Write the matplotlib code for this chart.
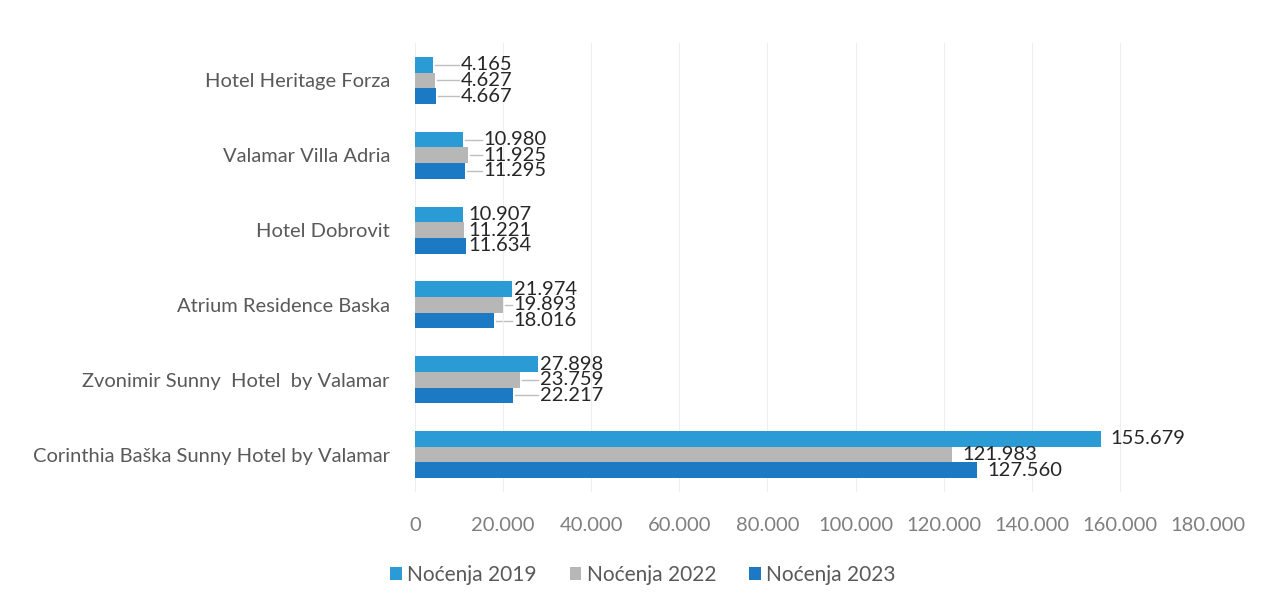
import matplotlib
matplotlib.use("Agg")
import matplotlib.pyplot as plt
import numpy as np

categories = ["Corinthia Baška Sunny Hotel by Valamar",
              "Zvonimir Sunny  Hotel  by Valamar",
              "Atrium Residence Baska",
              "Hotel Dobrovit",
              "Valamar Villa Adria",
              "Hotel Heritage Forza"]
series_names = ["Noćenja 2019", "Noćenja 2022", "Noćenja 2023"]
n2019 = [155679, 27898, 21974, 10907, 10980, 4165]
n2022 = [121983, 23759, 19893, 11221, 11925, 4627]
n2023 = [127560, 22217, 18016, 11634, 11295, 4667]
xticks = [0, 20000, 40000, 60000, 80000, 100000, 120000, 140000, 160000, 180000]

colors = ["#2B9BD6", "#B7B7B7", "#1C79C3"]
series = [n2019, n2022, n2023]

plt.rcParams['font.family'] = ['Lato', 'DejaVu Sans']

fig = plt.figure(figsize=(12.63, 6.05), dpi=100)
ax = fig.add_axes([415/1263, 1-492/605, (1208-415)/1263, (492-43)/605])

def fmt(v):
    return f"{v:,}".replace(",", ".")

y = np.arange(len(categories))
h = 0.21
offsets = [h, 0, -h]
for s, vals, c, off in zip(series_names, series, colors, offsets):
    ax.barh(y + off, vals, height=h, color=c, label=s, zorder=2)

# data labels
px = 180000 / (1208 - 415)
for i in range(len(categories)):
    group = [series[k][i] for k in range(3)]
    gmax = max(group)
    for k in range(3):
        v = series[k][i]
        yy = y[i] + offsets[k]
        if gmax > 50000:
            tx = v + 10 * px
            ax.text(tx, yy, fmt(v), va="center", ha="left", fontsize=14.5,
                    color="#262626", zorder=3)
        else:
            extra = 25 if gmax < 6000 else (16 if i == 4 else 2)
            tx = gmax + extra * px
            if tx - v > 8 * px:
                ax.plot([v + 2 * px, tx - 2 * px], [yy, yy], color="#BFBFBF", lw=1, zorder=1)
            ax.text(tx, yy, fmt(v), va="center", ha="left", fontsize=14.5,
                    color="#262626", zorder=3)

ax.set_xlim(0, 180000)
ax.set_ylim(-0.5, 5.5)
ax.set_yticks(y)
ax.set_yticklabels(categories, fontsize=14.5, color="#595959")
ax.set_xticks(xticks)
ax.set_xticklabels([fmt(t) for t in xticks], fontsize=14.5, color="#7F7F7F")
ax.tick_params(axis="both", length=0)
ax.tick_params(axis="x", pad=18)
ax.tick_params(axis="y", pad=18)
ax.grid(axis="x", color="#EEEEEE", lw=0.8, zorder=0)
for sp in ax.spines.values():
    sp.set_visible(False)

fig.legend(loc="center", bbox_to_anchor=(643/1263, 1-575/605), ncol=3, frameon=False,
           fontsize=15, handlelength=0.55, handleheight=0.55, handletextpad=0.25,
           columnspacing=1.6, labelcolor="#595959")

fig.savefig("out.png", dpi=100)
